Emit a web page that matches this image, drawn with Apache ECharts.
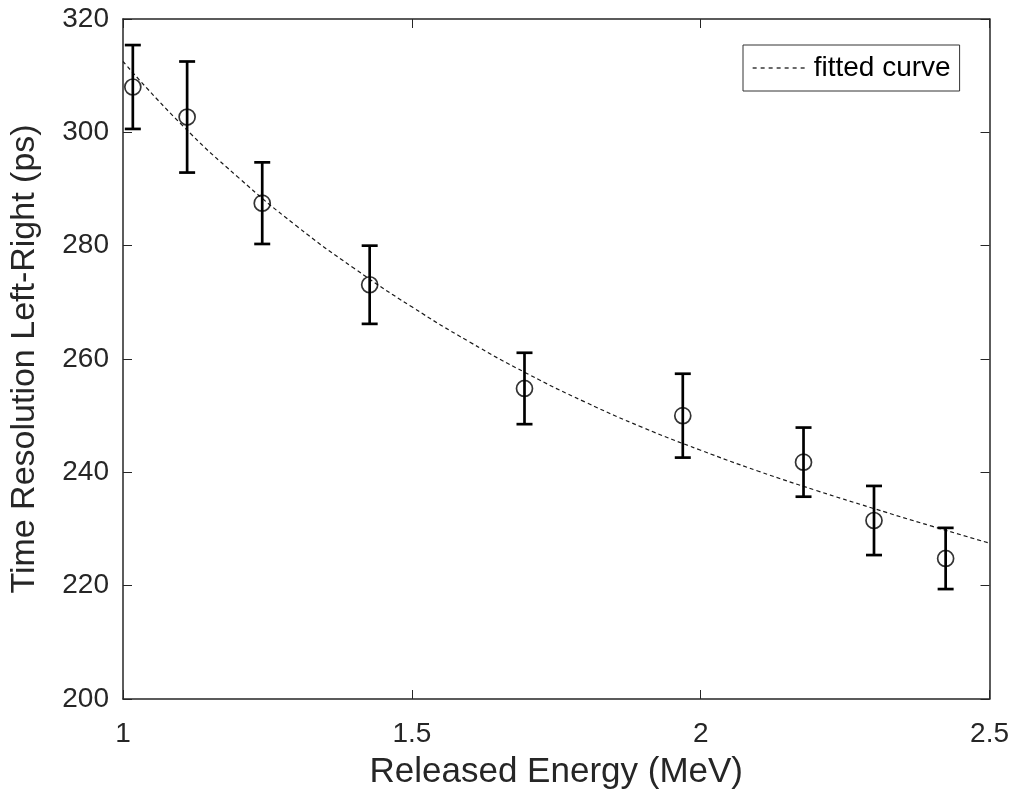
<!DOCTYPE html>
<html>
<head>
<meta charset="utf-8">
<script src="https://cdn.jsdelivr.net/npm/echarts@6/dist/echarts.min.js"></script>
<style>
html,body{margin:0;padding:0;background:#fff;}
#chart{width:1012px;height:797px;}
</style>
</head>
<body>
<div id="chart"></div>
<script>
// Measured points (Released Energy in MeV, Time Resolution in ps, +/- error in ps)
const energy     = [1.017, 1.111, 1.241, 1.427, 1.695, 1.969, 2.178, 2.300, 2.424];
const resolution = [308.0, 302.7, 287.5, 273.1, 254.8, 250.0, 241.8, 231.5, 224.8];
const errorHalf  = [7.4, 9.8, 7.2, 6.9, 6.3, 7.4, 6.1, 6.1, 5.4];

// Fitted curve
const fitEnergy = [1.0, 1.1, 1.2, 1.3, 1.4, 1.5, 1.6, 1.7, 1.8, 1.9, 2.0, 2.1, 2.2, 2.3, 2.4, 2.5];
const fitValue  = [312.5, 301.5, 292.0, 283.5, 276.0, 269.2, 263.0, 257.4, 252.4, 247.9, 243.9, 240.2, 236.8, 233.6, 230.5, 227.5];

const xTicks = [1, 1.5, 2, 2.5];
const yTicks = [200, 220, 240, 260, 280, 300, 320];

const FONT = "'Liberation Sans', Arial, Helvetica, sans-serif";
const AX = '#262626';

const pointData = energy.map((e, i) => [e, resolution[i]]);
const errData = energy.map((e, i) => [e, resolution[i] - errorHalf[i], resolution[i] + errorHalf[i]]);
const fitData = fitEnergy.map((e, i) => [e, fitValue[i]]);

const chart = echarts.init(document.getElementById('chart'), null, {renderer: 'canvas'});

const baseX = {
  type: 'value', min: xTicks[0], max: xTicks[xTicks.length - 1], interval: 0.5,
  splitLine: {show: false},
  axisLine: {show: true, onZero: false, lineStyle: {color: AX, width: 1.5}},
  axisTick: {show: true, inside: true, length: 9, lineStyle: {color: AX, width: 1}}
};
const baseY = {
  type: 'value', min: yTicks[0], max: yTicks[yTicks.length - 1], interval: 20,
  splitLine: {show: false},
  axisLine: {show: true, onZero: false, lineStyle: {color: AX, width: 1.5}},
  axisTick: {show: true, inside: true, length: 9, lineStyle: {color: AX, width: 1}}
};

chart.setOption({
  animation: false,
  backgroundColor: '#fff',
  textStyle: {fontFamily: FONT},
  grid: {left: 122, right: 22, top: 19, bottom: 98, containLabel: false},
  legend: {
    left: 743, top: 45,
    data: [{name: 'fitted curve', itemStyle: {opacity: 0}}],
    itemWidth: 56, itemHeight: 14,
    padding: [9, 9, 9, 9],
    borderColor: '#333', borderWidth: 1,
    backgroundColor: '#fff',
    itemStyle: {opacity: 0},
    lineStyle: {color: '#1a1a1a', width: 1.3, type: [4, 4]},
    textStyle: {fontFamily: FONT, fontSize: 28, color: '#000'}
  },
  xAxis: [
    Object.assign({}, baseX, {
      position: 'bottom',
      name: 'Released Energy (MeV)', nameLocation: 'middle', nameGap: 56,
      nameTextStyle: {fontFamily: FONT, fontSize: 35, color: AX},
      axisLabel: {show: true, margin: 21, fontFamily: FONT, fontSize: 28, color: AX,
        formatter: v => String(v)}
    }),
    Object.assign({}, baseX, {position: 'top', axisLabel: {show: false}})
  ],
  yAxis: [
    Object.assign({}, baseY, {
      position: 'left',
      name: 'Time Resolution Left-Right (ps)', nameLocation: 'middle', nameGap: 81,
      nameTextStyle: {fontFamily: FONT, fontSize: 34, color: AX},
      axisLabel: {show: true, margin: 14, fontFamily: FONT, fontSize: 28, color: AX}
    }),
    Object.assign({}, baseY, {position: 'right', axisLabel: {show: false}})
  ],
  series: [
    {
      name: 'fitted curve', type: 'line', data: fitData, smooth: true,
      symbol: 'none', showSymbol: false,
      lineStyle: {color: '#1a1a1a', width: 1.2, type: [4, 3]},
      itemStyle: {color: '#1a1a1a'},
      z: 2
    },
    {
      name: 'errors', type: 'custom', data: errData,
      renderItem: function (params, api) {
        const x = api.value(0);
        const lo = api.coord([x, api.value(1)]);
        const hi = api.coord([x, api.value(2)]);
        const hw = 8;
        const st = {stroke: '#000', lineWidth: 2.7};
        return {
          type: 'group',
          children: [
            {type: 'line', shape: {x1: lo[0], y1: lo[1], x2: hi[0], y2: hi[1]}, style: st},
            {type: 'line', shape: {x1: lo[0] - hw, y1: lo[1], x2: lo[0] + hw, y2: lo[1]}, style: st},
            {type: 'line', shape: {x1: hi[0] - hw, y1: hi[1], x2: hi[0] + hw, y2: hi[1]}, style: st}
          ]
        };
      },
      z: 3
    },
    {
      name: 'data', type: 'scatter', data: pointData,
      symbol: 'circle', symbolSize: 16,
      itemStyle: {color: 'rgba(0,0,0,0)', borderColor: '#000', borderWidth: 1.7},
      z: 4
    }
  ]
});
</script>
</body>
</html>
